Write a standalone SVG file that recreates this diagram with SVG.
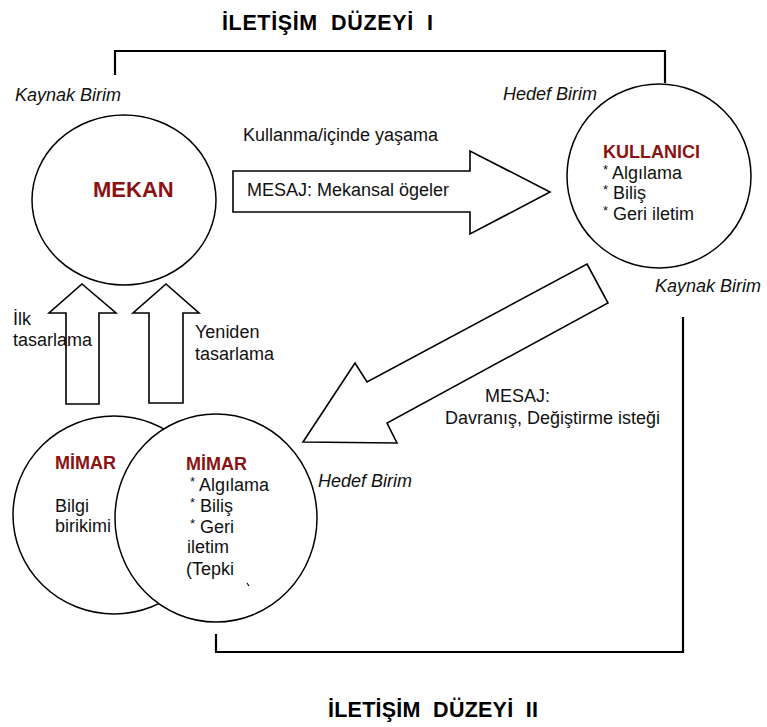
<svg xmlns="http://www.w3.org/2000/svg" width="767" height="727" viewBox="0 0 767 727">
<style>
text{font-family:"Liberation Sans",Arial,sans-serif;font-size:18px;fill:#111}
.title{font-weight:bold;font-size:21.5px;white-space:pre;fill:#000}
.it{font-style:italic}
.red{font-weight:bold;fill:#8a1212}
.b{font-size:13px}
.node{fill:#fff;stroke:#000;stroke-width:1.5}
.blk{fill:#fff;stroke:#000;stroke-width:1.6;stroke-linejoin:miter}
.br{fill:none;stroke:#000;stroke-width:2.2}
</style>
<rect width="767" height="727" fill="#fff"/>
<text class="title" x="222" y="30" textLength="211" lengthAdjust="spacing">İLETİŞİM  DÜZEYİ  I</text>
<text class="title" x="328" y="717" textLength="210" lengthAdjust="spacing">İLETİŞİM  DÜZEYİ  II</text>
<g id="connectors">
<polyline class="br" points="115,75 115,51 665,51 665,83"/>
<polyline class="br" points="683,317 683,652 216,652 216,634"/>
<polygon id="arrow-mesaj1" class="blk" points="233,171 470,171 470,151 550,192 470,234 470,212 233,212"/>
<polygon id="arrow-mesaj2" class="blk" points="587,264 608,303 387,423 397,443 303,442 355,363 367,382"/>
<polygon id="arrow-ilk" class="blk" points="82,284 116,313 99,313 99,404 66,404 66,313 49,313"/>
<polygon id="arrow-yeniden" class="blk" points="166,284 199,313 183,313 183,403 149,403 149,313 133,313"/>
</g>
<g id="labels">
<text class="it" x="15" y="101">Kaynak Birim</text>
<text class="it" x="503" y="100">Hedef Birim</text>
<text class="it" x="655" y="292">Kaynak Birim</text>
<text class="it" x="318" y="487">Hedef Birim</text>
<text x="243" y="141">Kullanma/içinde yaşama</text>
<text x="247" y="196">MESAJ: Mekansal ögeler</text>
<text x="485" y="402">MESAJ:</text>
<text x="445" y="424">Davranış, Değiştirme isteği</text>
<text x="13" y="325">İlk</text>
<text x="13" y="346">tasarlama</text>
<text x="195" y="338">Yeniden</text>
<text x="195" y="360">tasarlama</text>
</g>
<g id="mekan">
<ellipse class="node" cx="124" cy="200" rx="92" ry="85"/>
<text class="red" x="93" y="197" style="font-size:22px">MEKAN</text>
</g>
<g id="kullanici">
<ellipse class="node" cx="659" cy="176" rx="92" ry="92"/>
<text class="red" x="603" y="158">KULLANICI</text>
<text x="603" y="179"><tspan class="b" dy="-5">*</tspan><tspan dy="5"> Algılama</tspan></text>
<text x="603" y="199"><tspan class="b" dy="-5">*</tspan><tspan dy="5"> Biliş</tspan></text>
<text x="603" y="220"><tspan class="b" dy="-5">*</tspan><tspan dy="5"> Geri iletim</tspan></text>
</g>
<g id="mimar-1">
<ellipse class="node" cx="114" cy="515" rx="101" ry="99"/>
</g>
<g id="mimar-2">
<ellipse class="node" cx="216" cy="518" rx="101" ry="104"/>
<text class="red" x="186" y="470">MİMAR</text>
<text x="190" y="491"><tspan class="b" dy="-5">*</tspan><tspan dy="5"> Algılama</tspan></text>
<text x="190" y="512"><tspan class="b" dy="-5">*</tspan><tspan dy="5"> Biliş</tspan></text>
<text x="190" y="533"><tspan class="b" dy="-5">*</tspan><tspan dy="5"> Geri</tspan></text>
<text x="187" y="553">iletim</text>
<text x="186" y="575">(Tepki</text>
<path d="M247,583 L249,586" stroke="#000" stroke-width="1.2"/>
</g>
<g id="mimar-1-text">
<text class="red" x="55" y="469">MİMAR</text>
<text x="55" y="512">Bilgi</text>
<text x="55" y="532">birikimi</text>
</g>
</svg>
